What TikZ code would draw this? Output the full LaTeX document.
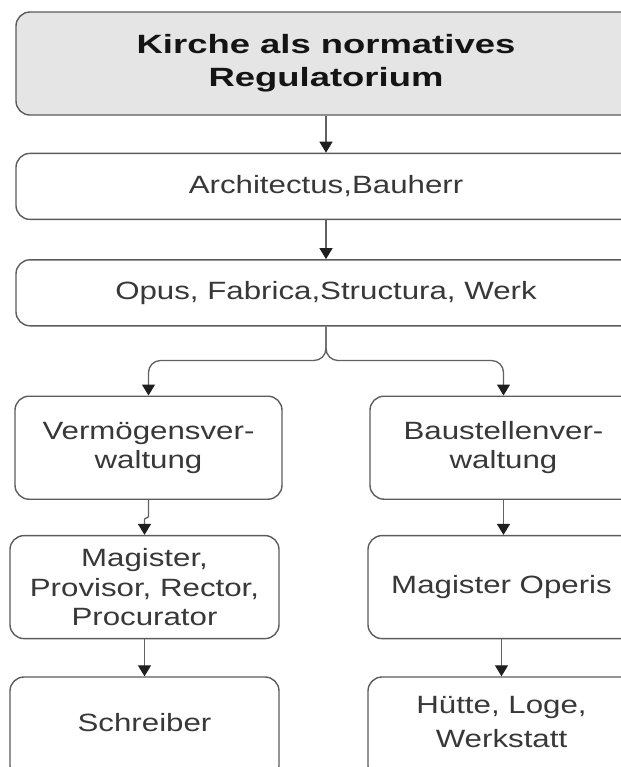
\documentclass[tikz,border=0pt]{standalone}
\usepackage{fontspec}
\setmainfont{Liberation Sans}[FakeStretch=1.25]
\newfontfamily\kirchefont{Liberation Sans}[FakeStretch=1.38]
\usepackage{tikz}
\usetikzlibrary{arrows.meta,positioning}

\begin{document}
\begin{tikzpicture}[
  fbox/.style  = {draw=black!64, fill=#1, rounded corners=7pt,
                  align=center, text=black!78, line width=0.7pt,
                  font=\fontsize{12.5}{14.6}\selectfont, inner sep=2pt},
  tbox/.style  = {fbox=#1, text=black!92,
                  font=\kirchefont\fontsize{13.2}{16.5}\selectfont\bfseries},
  arr/.style   = {-{Triangle[length=5.5pt,width=6.5pt,color=black!88]},
                  line width=0.65pt, draw=black!62},
  node distance = 18.5pt,
]
\useasboundingbox (0,0) rectangle (310.5pt,-383.5pt);
\clip (0,0) rectangle (310.5pt,-383.5pt);
\node[tbox=black!10, minimum width=310pt, minimum height=51.5pt] (kirche)
    at (163pt,-31.75pt) {Kirche als normatives\\Regulatorium};
\node[fbox=white, minimum width=310pt, minimum height=33pt,
      below=of kirche] (arch) {Architectus,Bauherr};
\node[fbox=white, minimum width=310pt, minimum height=33pt,
      below=19.5pt of arch] (opus) {Opus, Fabrica,Structura, Werk};
\draw[arr] (kirche.south) -- (arch.north);
\draw[arr] (arch.south) -- (opus.north);
% zwei Zweige
\node[fbox=white, minimum width=133.5pt, minimum height=51.5pt,
      below=34.5pt of opus, xshift=-88.75pt] (verm)
    {Verm\"ogensver-\\waltung};
\node[fbox=white, minimum width=133.5pt, minimum height=51.5pt,
      below=34.5pt of opus, xshift=88.75pt] (bau)
    {Baustellenver-\\waltung};
\draw[arr, rounded corners=6pt] (opus.south) -- ++(0,-17pt) -| (verm.north);
\draw[arr, rounded corners=6pt] (opus.south) -- ++(0,-17pt) -| (bau.north);
\node[fbox=white, minimum width=134.5pt, minimum height=51.5pt,
      below=17.5pt of verm, xshift=-2pt] (mag)
    {Magister,\\Provisor, Rector,\\Procurator};
\node[fbox=white, minimum width=133.5pt, minimum height=51.5pt,
      below=17.5pt of bau, xshift=-1pt] (magop) {Magister Operis};
\draw[arr, rounded corners=1pt] (verm.south) -- ++(0,-9pt) -| (mag.north);
\draw[arr] (bau.south) -- (bau.south |- magop.north);
\node[fbox=white, minimum width=134.5pt, minimum height=51.5pt,
      text depth=6.5pt, below=of mag] (schr) {Schreiber};
\node[fbox=white, minimum width=133.5pt, minimum height=51.5pt,
      text depth=6.5pt, below=of magop] (huette) {H\"utte, Loge,\\[2.5pt]Werkstatt};
\draw[arr] (mag.south) -- (schr.north);
\draw[arr] (magop.south) -- (huette.north);
\end{tikzpicture}
\end{document}
